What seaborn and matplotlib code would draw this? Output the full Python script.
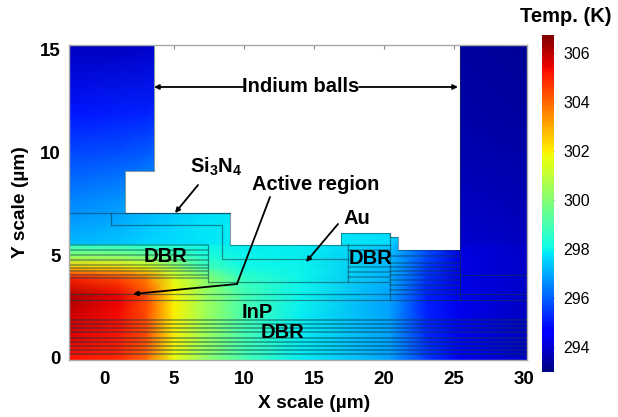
import numpy as np
import matplotlib
matplotlib.use("Agg")
import matplotlib.pyplot as plt
from matplotlib.patches import Polygon
import seaborn as sns

sns.set_theme(style="white")
plt.rcParams['font.family'] = ['Liberation Sans', 'DejaVu Sans']
plt.rcParams['mathtext.fontset'] = 'custom'
plt.rcParams['mathtext.bf'] = 'Liberation Sans:bold'

x_knots = [-2.5, 1, 3, 5, 7, 10, 14, 20.4, 23, 25.4, 30.2]
y_knots = [-0.1, 1, 2, 3, 3.95, 4.45, 4.95, 5.52, 5.57, 6.4, 7.9, 9.9, 11.9, 15.24]
temps = [
    [305.2, 304.9, 304.0, 301.7, 300.4, 299.0, 297.9, 296.9, 295.5, 294.3, 293.8],
    [305.6, 305.2, 304.4, 302.0, 300.6, 299.0, 297.9, 296.9, 295.3, 294.3, 293.8],
    [305.8, 305.3, 304.4, 302.0, 300.6, 299.0, 297.9, 296.9, 295.2, 294.3, 293.8],
    [306.2, 305.5, 304.4, 302.0, 300.6, 299.0, 298.0, 296.9, 295.2, 294.3, 293.9],
    [305.0, 304.4, 303.6, 301.5, 300.2, 298.6, 298.0, 297.1, 295.4, 294.2, 293.9],
    [302.5, 302.2, 301.7, 300.5, 299.0, 298.1, 298.0, 297.2, 295.5, 294.2, 293.9],
    [300.3, 300.1, 299.8, 299.2, 298.4, 298.0, 297.9, 297.2, 295.7, 294.2, 293.9],
    [298.5, 298.4, 298.3, 298.2, 298.0, 297.9, 297.9, 297.5, 295.8, 294.1, 293.9],
    [297.2, 297.4, 297.6, 297.7, 297.8, 297.9, 297.9, 297.7, 296.0, 294.0, 293.8],
    [296.9, 297.1, 297.4, 297.6, 297.8, 297.9, 297.9, 297.7, 296.0, 293.9, 293.7],
    [296.4, 296.6, 296.9, 297.2, 297.5, 297.8, 297.9, 297.7, 296.0, 293.8, 293.6],
    [295.7, 295.8, 296.0, 296.3, 296.6, 297.0, 297.3, 296.9, 295.5, 293.6, 293.5],
    [295.0, 295.1, 295.2, 295.4, 295.7, 296.0, 296.3, 295.9, 294.9, 293.5, 293.4],
    [293.8, 293.8, 293.9, 294.1, 294.3, 294.5, 294.7, 294.5, 294.1, 293.4, 293.3],
]
t_ticks = [294, 296, 298, 300, 302, 304, 306]
x_ticks = [0, 5, 10, 15, 20, 25, 30]
y_ticks = [0, 5, 10, 15]

# device outline, clockwise from lower left
outline_x = [-2.5, -2.5, 3.55, 3.55, 1.5, 1.5, 9.0, 9.0, 16.95, 16.95, 20.4, 20.4, 21.0, 21.0, 25.4, 25.4, 30.2, 30.2]
outline_y = [-0.1, 15.24, 15.24, 9.09, 9.09, 7.06, 7.06, 5.52, 5.52, 6.09, 6.09, 5.89, 5.89, 5.26, 5.26, 15.24, 15.24, -0.1]

# layer boundaries (polylines)
layer_lines = [
    ([-2.5, 9.0], [7.06, 7.06]),
    ([0.5, 0.5, 8.4, 8.4, 17.4], [7.06, 6.46, 6.46, 4.82, 4.82]),
    ([7.4, 7.4], [5.52, 3.70]),
    ([17.4, 17.4], [5.57, 3.70]),
    ([7.4, 20.4], [3.70, 3.70]),
    ([16.95, 20.4], [5.52, 5.52]),
    ([20.4, 20.4], [6.09, 2.83]),
    ([25.4, 25.4], [5.26, 2.83]),
    ([-2.5, 30.2], [3.13, 3.13]),
    ([-2.5, 30.2], [2.83, 2.83]),
    ([25.4, 30.2], [4.03, 4.03]),
]
left_dbr_y = [5.52, 5.27, 5.02, 4.77, 4.52, 4.37, 4.22, 4.03, 3.88]
mid_dbr_y = [5.27, 4.42, 4.17, 3.93]
right_dbr_y = [4.97, 4.62, 4.42, 4.22, 4.03, 3.78, 3.53, 3.33]
bottom_dbr_y = [1.84, 1.64, 1.44, 1.24, 0.99, 0.80, 0.60, 0.40, 0.20]

fig = plt.figure(figsize=(6.18, 4.17), dpi=100, facecolor="white")
W, H = 618, 417
ax = fig.add_axes([69 / W, 1 - 360 / H, 458 / W, 315 / H])
xmin, xmax, ymin, ymax = -2.5, 30.2, -0.1, 15.24

X, Y = np.meshgrid(x_knots, y_knots)
mesh = ax.pcolormesh(X, Y, np.array(temps), cmap="jet", vmin=293, vmax=306.75, shading="gouraud")
clip = Polygon(np.column_stack([outline_x, outline_y]), closed=True, transform=ax.transData, fc="none", ec="none")
ax.add_patch(clip)
mesh.set_clip_path(clip)


def seg(xs, ys, lw=0.9, alpha=0.55, color="#0b3a4a"):
    sns.lineplot(x=xs, y=ys, sort=False, estimator=None, ax=ax, color=color, lw=lw, alpha=alpha, legend=False)


for xs, ys in layer_lines:
    seg(xs, ys)
seg(outline_x[1:-1], outline_y[1:-1], lw=0.8, alpha=0.5)
for yy in left_dbr_y:
    seg([-2.5, 7.4], [yy, yy], lw=1.3, alpha=0.4)
for yy in mid_dbr_y:
    seg([17.4, 20.4], [yy, yy], lw=1.2, alpha=0.4)
for yy in right_dbr_y:
    seg([20.4, 25.4], [yy, yy], lw=1.3, alpha=0.4)
for yy in bottom_dbr_y:
    seg([-2.5, 30.2], [yy, yy], lw=1.3, alpha=0.45)

ax.set_xlim(xmin, xmax)
ax.set_ylim(ymin, ymax)
ax.set_xticks(x_ticks)
ax.set_yticks(y_ticks)
ax.tick_params(axis="both", direction="in", length=3, width=0.8, color="#888888",
               labelsize=13.5, labelcolor="black", top=True, right=True, bottom=True, left=True)
ax.tick_params(axis="x", pad=8)
ax.tick_params(axis="y", pad=6)
for lab in ax.get_xticklabels() + ax.get_yticklabels():
    lab.set_fontweight("bold")
for s in ax.spines.values():
    s.set_color("#aaaaaa")
    s.set_linewidth(1.0)
ax.grid(False)
ax.set_xlabel("X scale (µm)", fontsize=13.8, fontweight="bold", color="black", labelpad=5)
ax.xaxis.label.set_x((314 - 69) / 458)
ax.set_ylabel("Y scale (µm)", fontsize=13.8, fontweight="bold", color="black", labelpad=8)


def px(x, y):
    return (x / W, 1 - y / H)


def label(text, x, y, size=14.5):
    fig.text(*px(x, y), text, fontsize=size, fontweight="bold", ha="center", va="center", color="black")


def arrow(start, end, style="-|>", lw=1.3, ms=7):
    ax.annotate("", xy=px(*end), xytext=px(*start), xycoords="figure fraction", textcoords="figure fraction",
                arrowprops=dict(arrowstyle=style, color="black", lw=lw, mutation_scale=ms, shrinkA=0, shrinkB=0))


label("Indium balls", 301, 87)
arrow((243, 87), (154, 87))
arrow((359, 87), (458, 87))
label(r"Si$_{\mathbf{3}}$N$_{\mathbf{4}}$", 216, 167)
arrow((198, 185), (175, 213))
label("Active region", 316, 185)
ax.plot([px(270, 197)[0], px(237, 284)[0]], [px(270, 197)[1], px(237, 284)[1]],
        transform=fig.transFigure, color="black", lw=1.3, clip_on=False)
arrow((237, 284), (133, 294))
label("Au", 357, 218)
arrow((338, 224), (306, 262))
label("DBR", 166, 257)
label("DBR", 370, 258)
label("InP", 257, 313)
label("DBR", 282, 332)

cax = fig.add_axes([542 / W, 1 - 372 / H, 12 / W, 337 / H])
cb = fig.colorbar(mesh, cax=cax, ticks=t_ticks)
cb.outline.set_visible(False)
cb.ax.tick_params(length=2, width=0.6, color="#666666", labelsize=11.5, pad=7, labelcolor="black", direction="in")
label("Temp. (K)", 566, 16, size=14.5)

fig.savefig("out.png", dpi=100, facecolor="white")
